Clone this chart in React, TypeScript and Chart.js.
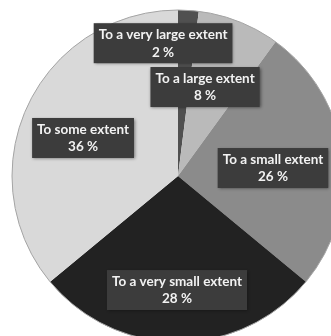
import React, { useEffect, useRef } from "react";
import { Chart, registerables } from "chart.js";

Chart.register(...registerables);

const categories = [
  "To a very large extent",
  "To a large extent",
  "To a small extent",
  "To a very small extent",
  "To some extent",
];
const values = [2, 8, 26, 28, 36];
const sliceColors = ["#505050", "#bababa", "#8b8b8b", "#222222", "#d9d9d9"];
// label box centres, as fractions of the outer radius from the pie centre
const labelOffsets = [
  [-0.09, -0.8],
  [0.163, -0.536],
  [0.572, -0.048],
  [-0.006, 0.687],
  [-0.572, -0.229],
];

const labelPlugin = {
  id: "boxLabels",
  afterDatasetsDraw(chart: any) {
    const ctx = chart.ctx;
    const meta = chart.getDatasetMeta(0);
    const first = meta.data[0];
    if (!first) return;
    const cx = first.x;
    const cy = first.y;
    const R = first.outerRadius;
    ctx.save();
    ctx.beginPath();
    ctx.arc(cx, cy, R, 0, Math.PI * 2);
    ctx.strokeStyle = "#a4a4a4";
    ctx.lineWidth = 1;
    ctx.stroke();
    ctx.restore();

    ctx.save();
    ctx.font = "bold 13.5px Lato, 'Open Sans', sans-serif";
    ctx.textAlign = "center";
    ctx.textBaseline = "middle";
    meta.data.forEach((arc: any, i: number) => {
      const [fx, fy] = labelOffsets[i];
      const x = cx + fx * R;
      const y = cy + fy * R;
      const l1 = categories[i];
      const l2 = values[i] + " %";
      const w = Math.max(ctx.measureText(l1).width, ctx.measureText(l2).width) + 10;
      const h = 40;
      ctx.save();
      ctx.shadowColor = "rgba(0,0,0,0.45)";
      ctx.shadowBlur = 3;
      ctx.shadowOffsetX = 1;
      ctx.shadowOffsetY = 1;
      ctx.fillStyle = "#3c3c3c";
      ctx.fillRect(x - w / 2, y - h / 2, w, h);
      ctx.restore();
      ctx.fillStyle = "#f2f2f2";
      ctx.fillText(l1, x, y - 8.5);
      ctx.fillText(l2, x, y + 9);
    });
    ctx.restore();
  },
};

export default function App() {
  const ref = useRef<HTMLCanvasElement>(null);
  useEffect(() => {
    if (!ref.current) return;
    const chart = new Chart(ref.current, {
      type: "pie",
      data: {
        labels: categories,
        datasets: [
          {
            data: values,
            backgroundColor: sliceColors,
            borderWidth: 0,
          },
        ],
      },
      options: {
        animation: false,
        responsive: true,
        maintainAspectRatio: false,
        radius: 166,
        layout: { padding: 0 },
        plugins: {
          legend: { display: false },
          tooltip: { enabled: false },
        },
      },
      plugins: [labelPlugin],
    });
    return () => chart.destroy();
  }, []);
  return (
    <div
      style={{
        position: "fixed",
        left: 0,
        top: 0,
        width: 331,
        height: 336,
        overflow: "hidden",
        background: "#ffffff",
      }}
    >
      <div style={{ position: "absolute", left: 8, top: 6, width: 340, height: 340 }}>
        <canvas ref={ref} />
      </div>
    </div>
  );
}
